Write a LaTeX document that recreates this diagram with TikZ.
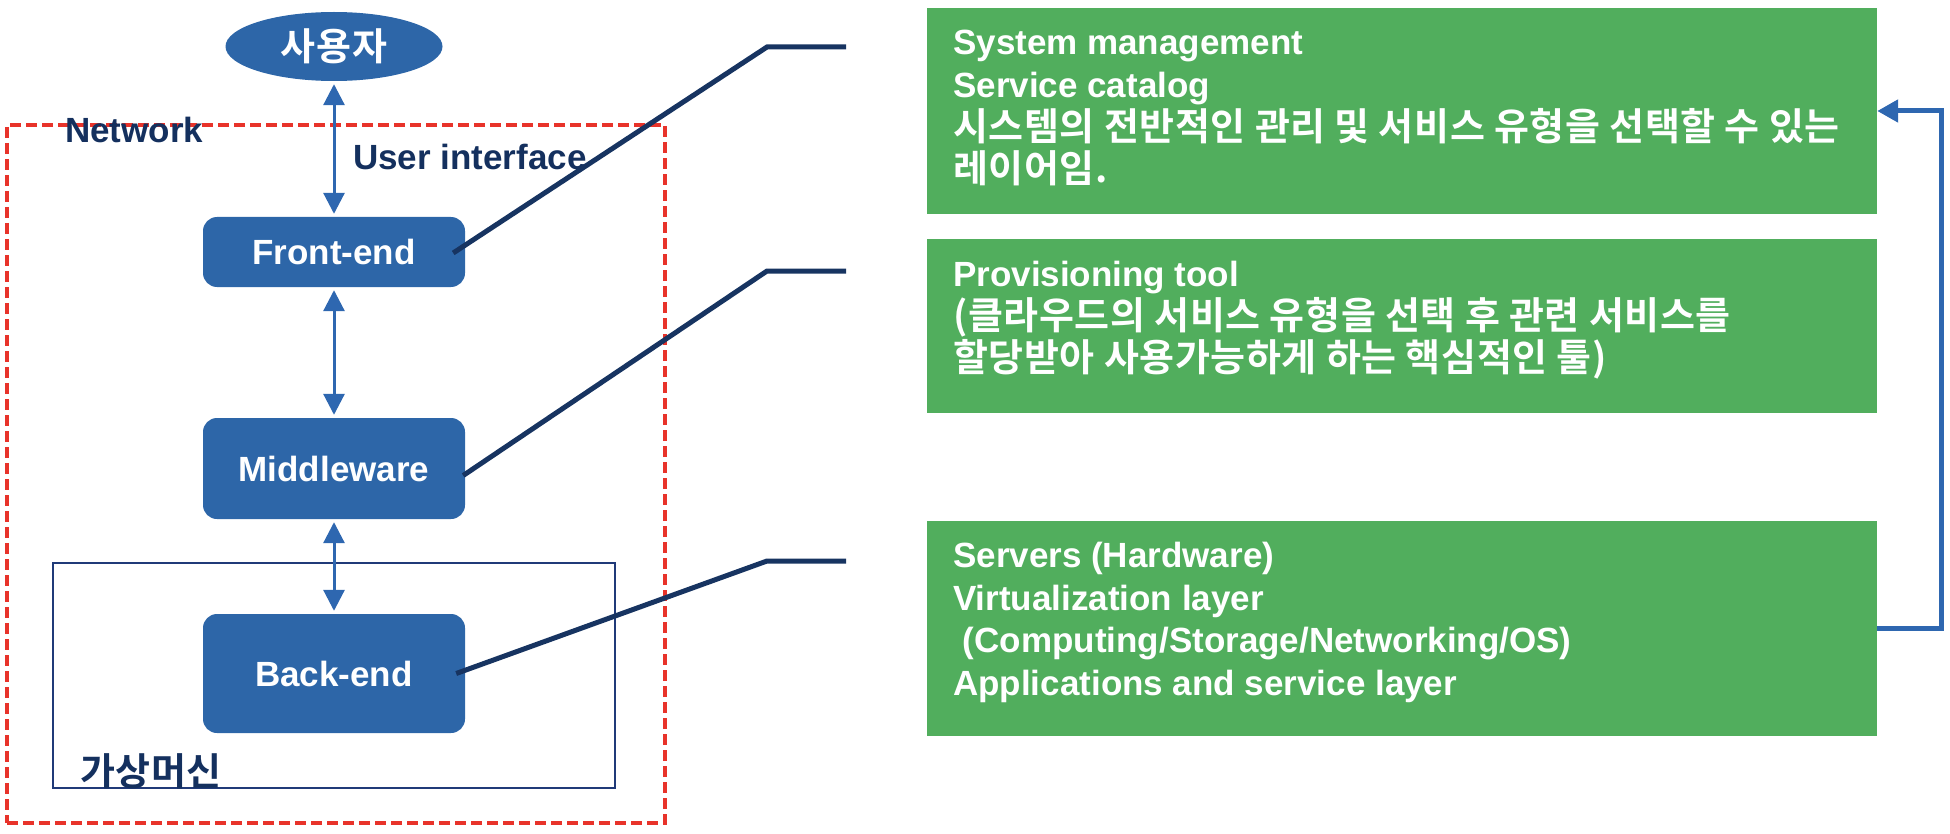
\documentclass[tikz,border=0pt]{standalone}
\usepackage{fontspec}
\setmainfont{Liberation Sans}
\newfontfamily\krfont{Noto Sans CJK KR Bold}[LetterSpace=1.6]
\usetikzlibrary{arrows.meta,shapes.geometric,calc}
\definecolor{boxblue}{RGB}{45,102,168}
\definecolor{navytext}{RGB}{20,48,94}
\definecolor{navyline}{RGB}{23,52,97}
\definecolor{vmnavy}{RGB}{32,58,120}
\definecolor{boxgreen}{RGB}{81,174,93}
\definecolor{netred}{RGB}{232,51,42}
\definecolor{arrowblue}{RGB}{46,103,176}
\tikzset{
  latfont/.style={font=\fontsize{35}{43}\selectfont\bfseries},
  korfont/.style={font=\fontsize{38}{43}\selectfont\krfont},
  bluebox/.style={rectangle, rounded corners=14pt, fill=boxblue, text=white,
    minimum width=262pt, inner sep=0pt, latfont},
  greenbox/.style={rectangle, fill=boxgreen, minimum width=950pt, inner sep=0pt},
  linetext/.style={anchor=base west, inner sep=0pt, text=white},
  lbl/.style={anchor=base west, inner sep=0pt, text=navytext},
  dblarrow/.style={draw=arrowblue, line width=3pt,
    {Triangle[width=21pt,length=21pt]}-{Triangle[width=21pt,length=21pt]},
    shorten <=3pt, shorten >=3pt},
  navylink/.style={draw=navyline, line width=5pt},
  backarrow/.style={draw=arrowblue, line width=5pt, -{Triangle[width=22pt,length=21pt]}},
}
\begin{document}
\begin{tikzpicture}[x=1pt,y=-1pt]
\useasboundingbox (0,0) rectangle (1950,834);

% frames
\node[draw=netred, line width=3.2pt, dash pattern=on 11pt off 5pt,
  minimum width=658pt, minimum height=698pt, inner sep=0pt] (net) at (336,474) {};
\node[draw=vmnavy, line width=2.8pt,
  minimum width=562pt, minimum height=225pt, inner sep=0pt] (vm) at (334,675.5) {};

% left column nodes
\node[ellipse, fill=boxblue, text=white, minimum width=217pt, minimum height=69pt,
  inner sep=0pt, korfont] (user) at (334,46.5) {사용자};
\node[bluebox, minimum height=70pt] (fe) at (334,252) {Front-end};
\node[bluebox, minimum height=101pt] (mw) at (334,468.5) {Middleware};
\node[bluebox, minimum height=119pt] (be) at (334,673.5) {Back-end};

% vertical double arrows
\draw[dblarrow] (user) -- (fe);
\draw[dblarrow] (fe) -- (mw);
\draw[dblarrow] (mw) -- (be);

% labels
\node[lbl, latfont] (netlbl) at (65,143) {Network};
\node[lbl, latfont] (uilbl) at (353,170) {User interface};
\node[lbl, korfont] (vmlbl) at (80,785) {가상머신};

% green boxes
\node[greenbox, minimum height=206pt] (g1) at (1402,111) {};
\node[greenbox, minimum height=174pt] (g2) at (1402,326) {};
\node[greenbox, minimum height=215pt] (g3) at (1402,628.5) {};

\node[linetext, latfont] (t11) at (953,55) {System management};
\node[linetext, latfont] (t12) at (953,98) {Service catalog};
\node[linetext, korfont] (t13) at (953,141) {시스템의 전반적인 관리 및 서비스 유형을 선택할 수 있는};
\node[linetext, korfont] (t14) at (953,183) {레이어임.};

\node[linetext, latfont] (t21) at (953,286) {Provisioning tool};
\node[linetext, korfont] (t22) at (953,329) {(클라우드의 서비스 유형을 선택 후 관련 서비스를};
\node[linetext, korfont] (t23) at (953,371) {할당받아 사용가능하게 하는 핵심적인 툴)};

\node[linetext, latfont] (t31) at (953,567) {Servers (Hardware)};
\node[linetext, latfont] (t32) at (953,610) {Virtualization layer};
\node[linetext, latfont] (t33) at (953,652) {\ (Computing/Storage/Networking/OS)};
\node[linetext, latfont] (t34) at (953,695) {Applications and service layer};

% leader lines
\coordinate (k1) at (767,47);   \coordinate (e1) at (846,47);
\coordinate (k2) at (767,271);  \coordinate (e2) at (846,271);
\coordinate (k3) at (767,561);  \coordinate (e3) at (846,561);
\draw[navylink] ($(fe.east)+(-12,1)$) -- (k1) -- (e1);
\draw[navylink] ($(mw.east)+(-2,7)$) -- (k2) -- (e2);
\draw[navylink] ($(be.east)+(-9,0)$) -- (k3) -- (e3);

% feedback arrow
\coordinate (r1) at (1941,628.5);
\draw[backarrow] (g3.east) -- (r1) |- (g1.east);
\end{tikzpicture}
\end{document}
